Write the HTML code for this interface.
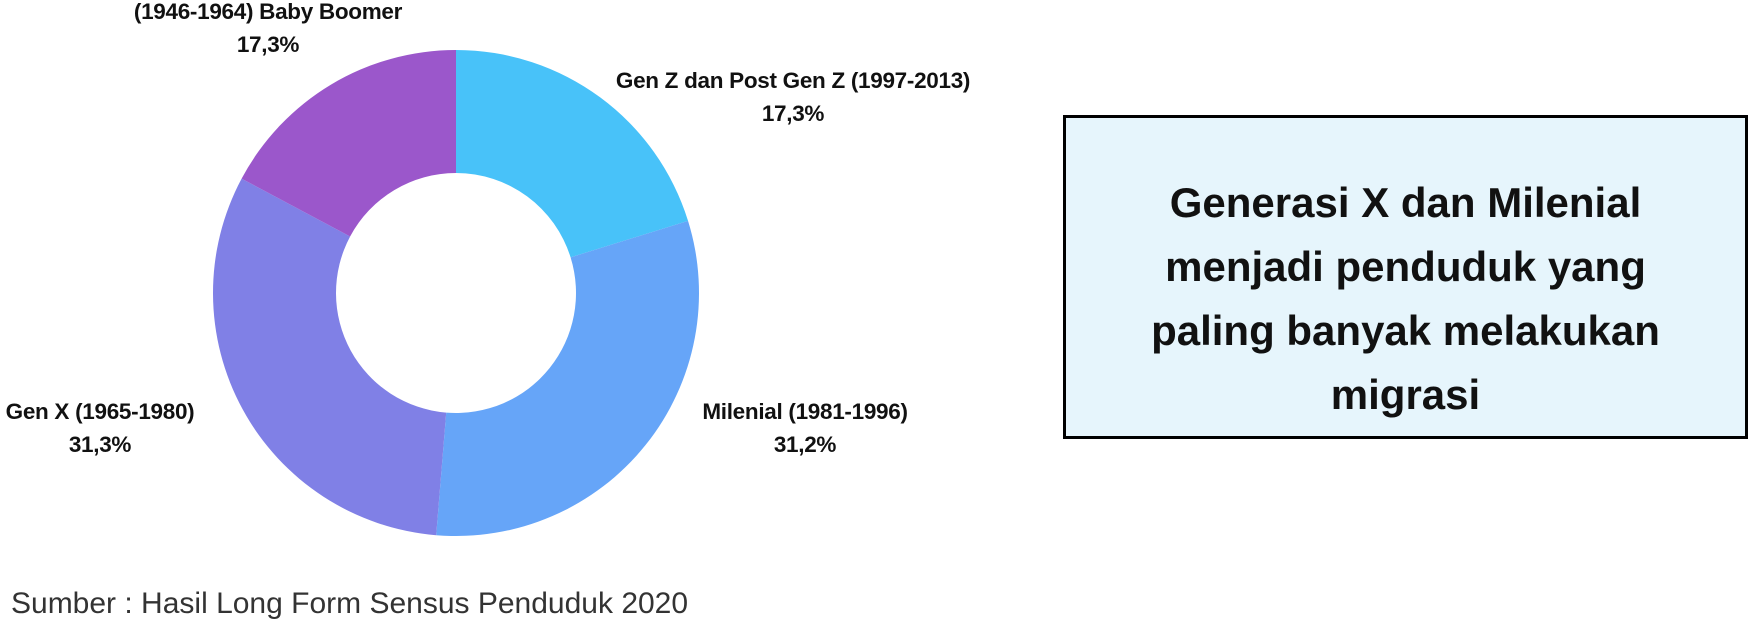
<!DOCTYPE html>
<html><head><meta charset="utf-8"><style>
body{margin:0;width:1751px;height:623px;background:#fff;overflow:hidden;font-family:"Liberation Sans",sans-serif;position:relative}
.lbl{position:absolute;font-weight:bold;font-size:22.5px;text-align:center;transform:translateX(-50%);white-space:nowrap;line-height:33px;color:#111;letter-spacing:-0.3px}
#box{position:absolute;left:1063px;top:115px;width:679px;height:318px;border:3px solid #000;background:#e6f5fc;display:flex;align-items:center;justify-content:center;text-align:center;font-weight:bold;font-size:42px;line-height:64px;color:#111}
#box div{padding-top:44px}
#src{position:absolute;left:11px;top:587px;font-size:30px;color:#333}
</style></head><body>
<svg id="chart" width="1751" height="623" style="position:absolute;left:0;top:0"></svg>
<div class="lbl" style="left:268px;top:-5px">(1946-1964) Baby Boomer<br>17,3%</div>
<div class="lbl" style="left:793px;top:64px">Gen Z dan Post Gen Z (1997-2013)<br>17,3%</div>
<div class="lbl" style="left:805px;top:395px">Milenial (1981-1996)<br>31,2%</div>
<div class="lbl" style="left:100px;top:395px">Gen X (1965-1980)<br>31,3%</div>
<div id="box"><div>Generasi X dan Milenial<br>menjadi penduduk yang<br>paling banyak melakukan<br>migrasi</div></div>
<div id="src">Sumber : Hasil Long Form Sensus Penduduk 2020</div>
<script>
const categories=["Gen Z dan Post Gen Z","Milenial","Gen X","Baby Boomer"];
const values=[20.2,31.1,31.5,17.2];
const colors=["#48c2f9","#66a5f8","#8080e6","#9b57cb"];
const cx=456,cy=293,R=243,r=120;
const svg=document.getElementById('chart');
const total=values.reduce((a,b)=>a+b,0);
function pt(a,rad){return [cx+rad*Math.sin(a),cy-rad*Math.cos(a)];}
let acc=0;
values.forEach((v,i)=>{
  const a0=acc/total*2*Math.PI; acc+=v; const a1=acc/total*2*Math.PI;
  const lg=(a1-a0)>Math.PI?1:0;
  const p0=pt(a0,R),p1=pt(a1,R),q1=pt(a1,r),q0=pt(a0,r);
  const p=document.createElementNS('http://www.w3.org/2000/svg','path');
  p.setAttribute('d',`M${p0[0]},${p0[1]}A${R},${R} 0 ${lg} 1 ${p1[0]},${p1[1]}L${q1[0]},${q1[1]}A${r},${r} 0 ${lg} 0 ${q0[0]},${q0[1]}Z`);
  p.setAttribute('fill',colors[i]);
  
  
  svg.appendChild(p);
});
</script>
</body></html>
